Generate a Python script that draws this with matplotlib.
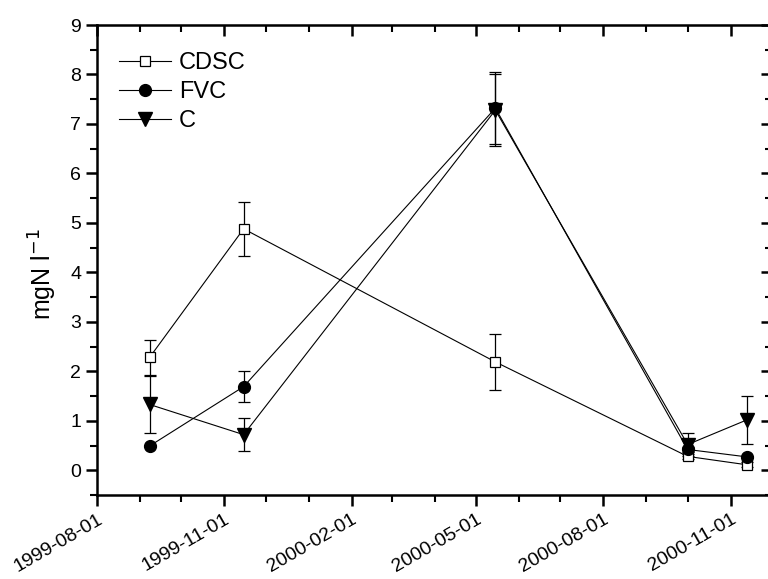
import matplotlib
matplotlib.use("Agg")
import matplotlib.pyplot as plt
import matplotlib.dates as mdates
from matplotlib.lines import Line2D
import numpy as np
import datetime as dt

plt.rcParams['font.family'] = ['Liberation Sans', 'DejaVu Sans']

dates = ["1999-09-08", "1999-11-15", "2000-05-15", "2000-10-01", "2000-11-13"]
cdsc = [2.28, 4.88, 2.19, 0.28, 0.11]
cdsc_err = [0.35, 0.54, 0.57, 0.05, 0.05]
fvc = [0.49, 1.69, 7.32, 0.42, 0.27]
fvc_err = [0.0, 0.31, 0.73, 0.05, 0.0]
c = [1.33, 0.72, 7.28, 0.52, 1.02]
c_err = [0.57, 0.34, 0.72, 0.23, 0.48]

x = [dt.datetime.strptime(d, "%Y-%m-%d") for d in dates]

fig = plt.figure(figsize=(7.68, 5.79), dpi=100)
ax = fig.add_axes([97/768, 1-495/579, (772-97)/768, (495-25)/579])

common = dict(color='black', lw=0.8, capsize=4.5, elinewidth=0.9, capthick=0.9)
styles = [
    dict(marker='s', ms=7, mfc='white', mec='black', mew=0.9),
    dict(marker='o', ms=8.5, mfc='black', mec='black'),
    dict(marker='v', ms=10, mfc='black', mec='black'),
]
series = [(cdsc, cdsc_err, 'CDSC'), (fvc, fvc_err, 'FVC'), (c, c_err, 'C')]
handles = []
for (vals, errs, name), st in zip(series, styles):
    ax.errorbar(x, vals, yerr=errs, zorder=3, **st, **common)
    handles.append(Line2D([], [], color='black', lw=0.8, **st))

ax.set_xlim(dt.datetime(1999, 8, 1), dt.datetime(2000, 12, 1))
ax.set_ylim(-0.5, 9)
ax.set_yticks(np.arange(0, 10, 1))
ax.set_yticks(np.arange(-0.5, 9.0, 0.5), minor=True)

ax.xaxis.set_major_locator(mdates.MonthLocator(bymonth=[2, 5, 8, 11]))
ax.xaxis.set_minor_locator(mdates.MonthLocator())
ax.xaxis.set_major_formatter(mdates.DateFormatter('%Y-%m-%d'))

for s in ax.spines.values():
    s.set_linewidth(1.8)

ax.tick_params(axis='both', which='major', length=8, width=1.8, labelsize=14)
ax.tick_params(axis='both', which='minor', length=5, width=1.5)
ax.tick_params(axis='x', which='both', direction='out', top=False)
ax.tick_params(axis='y', which='both', direction='out', right=False)

ax2 = ax.secondary_xaxis('top')
ax2.xaxis.set_major_locator(mdates.MonthLocator(bymonth=[2, 5, 8, 11]))
ax2.xaxis.set_minor_locator(mdates.MonthLocator())
ax2.tick_params(which='major', direction='in', length=8, width=1.8, labeltop=False)
ax2.tick_params(which='minor', direction='in', length=5, width=1.5)
ax2.set_xticklabels([])
ax3 = ax.secondary_yaxis('right')
ax3.set_yticks(np.arange(0, 10, 1))
ax3.set_yticks(np.arange(-0.5, 9.0, 0.5), minor=True)
ax3.tick_params(which='major', direction='in', length=8, width=1.8, labelright=False)
ax3.tick_params(which='minor', direction='in', length=5, width=1.5)
ax3.set_yticklabels([])

for lbl in ax.get_xticklabels():
    lbl.set_rotation(30)
    lbl.set_ha('right')
    lbl.set_va('top')
    lbl.set_rotation_mode('anchor')

ax.set_ylabel('mgN l$^{-1}$', fontsize=18)
ax.yaxis.set_label_coords(-0.056, 0.47)

ax.legend(handles, [s[2] for s in series], loc='upper left', frameon=False,
          fontsize=17, numpoints=1, handlelength=2.2, handletextpad=0.35,
          labelspacing=0.3, borderaxespad=0.0, bbox_to_anchor=(0.018, 0.962))

fig.savefig('out.png', dpi=100)
